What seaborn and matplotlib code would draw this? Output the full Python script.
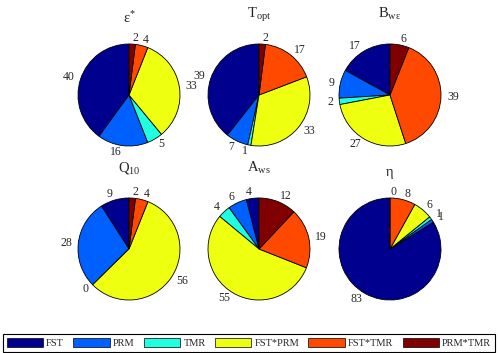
import numpy as np
import matplotlib
matplotlib.use("Agg")
import matplotlib.pyplot as plt
from matplotlib.patches import Patch
import seaborn as sns

# shares (%) of each factor, same order as the legend
components = ['FST', 'PRM', 'TMR', 'FST*PRM', 'FST*TMR', 'PRM*TMR']
eps_star = [40, 16, 5, 33, 4, 2]
t_opt = [39, 7, 1, 33, 17, 2]
b_weps = [17, 9, 2, 27, 39, 6]
q10 = [9, 28, 0, 56, 4, 2]
a_ws = [4, 6, 4, 55, 19, 12]
eta = [83, 1, 1, 6, 8, 0]

titles = [r'$ε^{*}$', r'$T_{opt}$', r'$B_{wε}$', r'$Q_{10}$', r'$A_{ws}$', 'η']
params = [eps_star, t_opt, b_weps, q10, a_ws, eta]

# jet-like colours
colors = ['#00008F', '#0060FF', '#20FFDF', '#EFFF10', '#FF4800', '#800000']

sns.set_theme(style='white')
plt.rcParams['font.family'] = ['Liberation Serif', 'DejaVu Serif']
plt.rcParams['mathtext.fontset'] = 'custom'
plt.rcParams['mathtext.rm'] = 'Liberation Serif'
plt.rcParams['mathtext.it'] = 'Liberation Serif:italic'
plt.rcParams['mathtext.default'] = 'regular'

W, H = 498, 353
fig = plt.figure(figsize=(W / 100, H / 100), dpi=100)

r = 51
centers = [(129, 95), (259, 95), (390, 95), (129, 249), (259, 249), (390, 249)]
title_base = [23, 18, 18, 172, 172, 176]

for vals, ttl, (cx, cy), tb in zip(params, titles, centers, title_base):
    ax = fig.add_axes([(cx - r) / W, 1 - (cy + r) / H, 2 * r / W, 2 * r / H])
    ax.pie(vals, labels=[str(v) for v in vals], colors=colors, startangle=90,
           labeldistance=1.12,
           wedgeprops=dict(edgecolor='black', linewidth=0.6),
           textprops=dict(fontsize=8.5))
    ax.set_xlim(-1, 1)
    ax.set_ylim(-1, 1)
    ax.set_aspect('equal')
    ax.axis('off')
    ax.text(0, (cy - tb) / r, ttl, ha='center', va='baseline', fontsize=10.5)

handles = [Patch(facecolor=c, edgecolor='black', linewidth=0.5) for c in colors]
leg = fig.legend(handles, components, loc='lower left', ncol=6, mode='expand',
                 bbox_to_anchor=(3 / W, 1 / H, 492 / W, 18 / H),
                 fontsize=7.5, handlelength=3.5, handleheight=1.0,
                 handletextpad=0.3, columnspacing=0.8, borderaxespad=0,
                 borderpad=0.35, fancybox=False, framealpha=1)
leg.get_frame().set_edgecolor('black')
leg.get_frame().set_linewidth(0.8)

fig.savefig('out.png', dpi=100, facecolor='white')
